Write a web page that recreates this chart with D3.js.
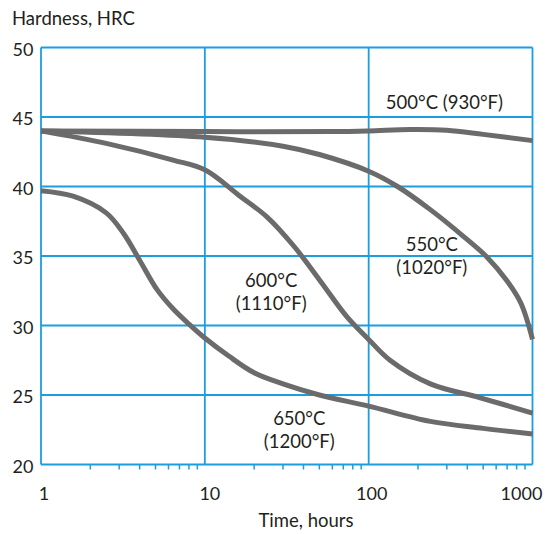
<!DOCTYPE html>
<html>
<head>
<meta charset="utf-8">
<script src="https://cdn.jsdelivr.net/npm/d3@7"></script>
<style>
  html, body { margin: 0; padding: 0; background: #fff; }
  svg { display: block; }
  text { font-family: Lato, "Open Sans", sans-serif; fill: #231f20; }
</style>
</head>
<body>
<svg id="chart" width="546" height="534"></svg>
<script>
// ---- data ----
const xTickValues = [1, 10, 100, 1000];
const xTickLabels = ["1", "10", "100", "1000"];
const yTickValues = [20, 25, 30, 35, 40, 45, 50];

const hours500 = [1, 10, 60, 100, 180, 300, 500, 1000];
const hrc500   = [44.0, 43.95, 43.95, 44.0, 44.1, 44.05, 43.75, 43.3];

const hours550 = [1, 10, 30, 50, 100, 150, 240, 380, 530, 700, 850, 1000];
const hrc550   = [44.0, 43.55, 42.9, 42.3, 41.1, 40.0, 38.3, 36.4, 34.9, 33.2, 31.6, 29.0];

const hours600 = [1, 2.5, 6.4, 10, 16.4, 24, 35, 50, 74, 100, 135, 238, 480, 1000];
const hrc600   = [44.0, 43.1, 41.9, 41.2, 39.3, 37.8, 35.7, 33.3, 30.6, 29.0, 27.5, 25.8, 24.8, 23.7];

const hours650 = [1, 1.57, 2.5, 3.2, 4, 5.1, 6.4, 8, 10, 14, 20, 30, 50, 100, 238, 500, 1000];
const hrc650   = [39.7, 39.3, 38.1, 36.6, 34.7, 32.6, 31.2, 30.1, 29.1, 27.8, 26.6, 25.8, 25.0, 24.2, 23.1, 22.6, 22.2];

const seriesLabels = [
  { lines: ["500°C (930°F)"], hours: 290, hrc: 45.55 },
  { lines: ["550°C", "(1020°F)"], hours: 243, hrc: 35.35 },
  { lines: ["600°C", "(1110°F)"], hours: 25.4, hrc: 32.8 },
  { lines: ["650°C", "(1200°F)"], hours: 37.7, hrc: 22.85 }
];

// ---- layout ----
const svg = d3.select("#chart");
const blue = "#1a9ee0";
const gray = "#6b6b6b";

const x = d3.scaleLog().domain([1, 1000]).range([41, 532.5]);
const y = d3.scaleLinear().domain([20, 50]).range([464.5, 47.5]);

// minor ticks below bottom axis
const minor = [];
[1, 10, 100].forEach(d => { for (let k = 2; k <= 9; k++) minor.push(d * k); });
svg.append("g").selectAll("line").data(minor).join("line")
  .attr("x1", d => x(d)).attr("x2", d => x(d))
  .attr("y1", y(20)).attr("y2", y(20) + 5)
  .attr("stroke", blue).attr("stroke-width", 1.5);

// horizontal grid lines
svg.append("g").selectAll("line").data(yTickValues).join("line")
  .attr("x1", x(1)).attr("x2", x(1000))
  .attr("y1", d => y(d)).attr("y2", d => y(d))
  .attr("stroke", blue).attr("stroke-width", 1.8);

// vertical grid lines
svg.append("g").selectAll("line").data(xTickValues).join("line")
  .attr("x1", d => x(d)).attr("x2", d => x(d))
  .attr("y1", y(50)).attr("y2", y(20))
  .attr("stroke", blue).attr("stroke-width", 1.8);

// curves
const line = d3.line()
  .x(d => x(d[0])).y(d => y(d[1]))
  .curve(d3.curveCatmullRom.alpha(0.5));
const series = [
  [hours500, hrc500], [hours550, hrc550], [hours600, hrc600], [hours650, hrc650]
];
svg.append("g").selectAll("path").data(series).join("path")
  .attr("d", s => line(s[0].map((h, i) => [h, s[1][i]])))
  .attr("fill", "none").attr("stroke", gray).attr("stroke-width", 5);

// y tick labels
svg.append("g").selectAll("text").data(yTickValues).join("text")
  .attr("x", 33.5).attr("y", d => y(d) + 8)
  .attr("text-anchor", "end").attr("font-size", 18)
  .text(d => d);

// x tick labels
const xLabelShift = [3, 5, 3, -11];
svg.append("g").selectAll("text").data(xTickValues).join("text")
  .attr("x", (d, i) => x(d) + xLabelShift[i])
  .attr("y", 500)
  .attr("text-anchor", "middle").attr("font-size", 18)
  .text((d, i) => xTickLabels[i]);

// axis titles
svg.append("text").attr("x", 12).attr("y", 25).attr("font-size", 18.5).text("Hardness, HRC");
svg.append("text").attr("x", 306).attr("y", 527).attr("text-anchor", "middle").attr("font-size", 18.5).text("Time, hours");

// series labels
const lg = svg.append("g");
seriesLabels.forEach(l => {
  l.lines.forEach((t, i) => {
    lg.append("text")
      .attr("x", x(l.hours)).attr("y", y(l.hrc) + i * 23)
      .attr("text-anchor", "middle").attr("font-size", 18.5)
      .text(t);
  });
});
</script>
</body>
</html>
